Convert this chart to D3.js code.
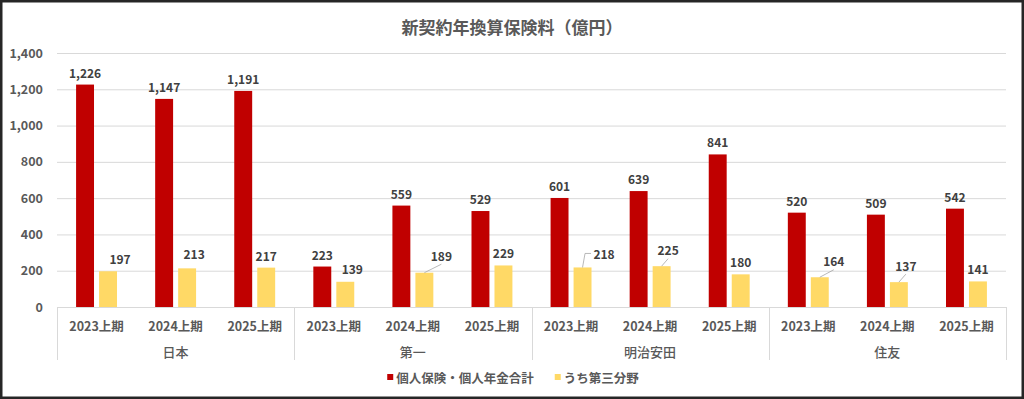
<!DOCTYPE html>
<html>
<head>
<meta charset="utf-8">
<script src="https://cdn.jsdelivr.net/npm/d3@7"></script>
<style>
  html, body { margin: 0; padding: 0; background: #fff; }
  svg { display: block; font-family: "Noto Sans CJK JP", "Noto Sans", sans-serif; }
</style>
</head>
<body>
<svg id="chart"></svg>
<script>
// chart data
const groups = ['日本', '第一', '明治安田', '住友'];
const periods = ['2023上期', '2024上期', '2025上期'];
const seriesNames = ['個人保険・個人年金合計', 'うち第三分野'];
const totalValues = [1226, 1147, 1191, 223, 559, 529, 601, 639, 841, 520, 509, 542];
const thirdSectorValues = [197, 213, 217, 139, 189, 229, 218, 225, 180, 164, 137, 141];
const yTicks = [0, 200, 400, 600, 800, 1000, 1200, 1400];
const title = '新契約年換算保険料（億円）';

// hand-moved data labels of the yellow series (px), as in the original sheet
const thirdLabelNudge = [
  { dx: 12, dy: 0 }, { dx: 7, dy: -2 }, { dx: 0, dy: 0 },
  { dx: 7, dy: -1 }, { dx: 17, dy: -5, leader: 'below' }, { dx: 0, dy: 0 },
  { dx: 21.5, dy: -1.5, leader: 'left' }, { dx: 6.5, dy: -4, leader: 'below' }, { dx: 0, dy: 0 },
  { dx: 14, dy: -4, leader: 'below' }, { dx: 7, dy: -4.5, leader: 'below' }, { dx: 0, dy: 0 }
];

const colors = ['#C00000', '#FFD966'];
const textColor = '#595959';
const gridColor = '#d9d9d9';

const width = 1024;
const height = 399;
const plot = { left: 57, right: 1006, top: 53, bottom: 307 };

const svg = d3.select('#chart')
  .attr('width', width)
  .attr('height', height);

svg.append('rect')
  .attr('width', width)
  .attr('height', height)
  .attr('fill', '#fff');

// scales
const y = d3.scaleLinear()
  .domain([0, 1400])
  .range([plot.bottom, plot.top]);

const x0 = d3.scaleBand()
  .domain(groups)
  .range([plot.left, plot.right]);

const x1 = d3.scaleBand()
  .domain(periods)
  .range([0, x0.bandwidth()]);

const x2 = d3.scaleBand()
  .domain(seriesNames)
  .range([0, x1.bandwidth()])
  .paddingInner(0.22)
  .paddingOuter(0.83);

// flatten into rows
const rows = [];
groups.forEach((g, gi) => {
  periods.forEach((p, pi) => {
    const i = gi * periods.length + pi;
    rows.push({ group: g, period: p, i, values: [totalValues[i], thirdSectorValues[i]] });
  });
});

// gridlines
svg.append('g')
  .selectAll('line')
  .data(yTicks.filter(d => d > 0))
  .enter()
  .append('line')
  .attr('x1', plot.left)
  .attr('x2', plot.right)
  .attr('y1', d => y(d) + 0.5)
  .attr('y2', d => y(d) + 0.5)
  .attr('stroke', gridColor)
  .attr('stroke-width', 1);

// y axis labels
const yAxis = d3.axisLeft(y)
  .tickValues(yTicks)
  .tickFormat(d3.format(','))
  .tickSize(0)
  .tickPadding(14);

svg.append('g')
  .attr('transform', `translate(${plot.left},0)`)
  .call(yAxis)
  .call(g => g.select('.domain').remove())
  .selectAll('text')
  .attr('fill', textColor)
  .style('font-size', '12.5px')
  .style('font-weight', '700')
  .style('font-family', '"Noto Sans CJK JP", sans-serif');

// bars
const barGroups = svg.append('g')
  .selectAll('g')
  .data(rows)
  .enter()
  .append('g')
  .attr('transform', d => `translate(${x0(d.group) + x1(d.period)},0)`);

barGroups.selectAll('rect')
  .data(d => d.values.map((v, si) => ({ v, si })))
  .enter()
  .append('rect')
  .attr('x', d => x2(seriesNames[d.si]))
  .attr('width', x2.bandwidth())
  .attr('y', d => y(d.v))
  .attr('height', d => y(0) - y(d.v))
  .attr('fill', d => colors[d.si]);

// x axis line and group separators
svg.append('line')
  .attr('x1', plot.left)
  .attr('x2', plot.right)
  .attr('y1', plot.bottom + 0.5)
  .attr('y2', plot.bottom + 0.5)
  .attr('stroke', gridColor)
  .attr('stroke-width', 1);

const separators = groups.map(g => x0(g)).concat([plot.right]);
svg.append('g')
  .selectAll('line')
  .data(separators)
  .enter()
  .append('line')
  .attr('x1', d => Math.round(d) + 0.5)
  .attr('x2', d => Math.round(d) + 0.5)
  .attr('y1', plot.bottom)
  .attr('y2', 360)
  .attr('stroke', gridColor)
  .attr('stroke-width', 1);

// period labels
svg.append('g')
  .selectAll('text')
  .data(rows)
  .enter()
  .append('text')
  .attr('x', d => x0(d.group) + x1(d.period) + x1.bandwidth() / 2)
  .attr('y', 325)
  .attr('text-anchor', 'middle')
  .attr('dominant-baseline', 'central')
  .attr('fill', textColor)
  .style('font-size', '12.5px')
  .style('font-weight', '700')
  .text(d => d.period);

// group labels
svg.append('g')
  .selectAll('text')
  .data(groups)
  .enter()
  .append('text')
  .attr('x', d => x0(d) + x0.bandwidth() / 2)
  .attr('y', 351.5)
  .attr('text-anchor', 'middle')
  .attr('dominant-baseline', 'central')
  .attr('fill', textColor)
  .style('font-size', '13px')
  .style('font-weight', '500')
  .text(d => d);

// data labels
const labelFmt = d3.format(',');
const labelGap = 12.5;
const labelLayer = svg.append('g');

rows.forEach(r => {
  const base = x0(r.group) + x1(r.period);
  // red series
  const rx = base + x2(seriesNames[0]) + x2.bandwidth() / 2;
  labelLayer.append('text')
    .attr('x', rx)
    .attr('y', y(r.values[0]) - labelGap)
    .attr('text-anchor', 'middle')
    .attr('dominant-baseline', 'central')
    .attr('fill', '#404040')
    .style('font-size', '12px')
    .style('font-weight', '700')
    .text(labelFmt(r.values[0]));

  // yellow series, with moved labels and leader lines
  const n = thirdLabelNudge[r.i];
  const bx = base + x2(seriesNames[1]) + x2.bandwidth() / 2;
  const top = y(r.values[1]);
  const lx = bx + n.dx;
  const ly = top - labelGap + n.dy;

  if (n.leader === 'below') {
    labelLayer.append('line')
      .attr('x1', bx).attr('y1', top)
      .attr('x2', lx).attr('y2', ly + 9)
      .attr('stroke', '#a6a6a6')
      .attr('stroke-width', 0.8);
  } else if (n.leader === 'left') {
    labelLayer.append('polyline')
      .attr('points', `${bx},${top} ${bx + 2.5},${ly} ${lx - 13},${ly}`)
      .attr('fill', 'none')
      .attr('stroke', '#a6a6a6')
      .attr('stroke-width', 0.8);
  }

  labelLayer.append('text')
    .attr('x', lx)
    .attr('y', ly)
    .attr('text-anchor', 'middle')
    .attr('dominant-baseline', 'central')
    .attr('fill', '#404040')
    .style('font-size', '12px')
    .style('font-weight', '700')
    .text(labelFmt(r.values[1]));
});

// title
svg.append('text')
  .attr('x', width / 2)
  .attr('y', 26.5)
  .attr('text-anchor', 'middle')
  .attr('dominant-baseline', 'central')
  .attr('fill', textColor)
  .style('font-size', '17px')
  .style('font-weight', '700')
  .text(title);

// legend
const legend = svg.append('g');
let cursor = 0;
seriesNames.forEach((name, i) => {
  const item = legend.append('g').attr('transform', `translate(${cursor},0)`);
  item.append('rect')
    .attr('x', 0)
    .attr('y', -3)
    .attr('width', 6)
    .attr('height', 6)
    .attr('fill', colors[i]);
  const t = item.append('text')
    .attr('x', 9)
    .attr('y', 0)
    .attr('dominant-baseline', 'central')
    .attr('fill', textColor)
    .style('font-size', '12.5px')
    .style('font-weight', '700')
    .text(name);
  cursor += 9 + t.node().getComputedTextLength() + 21;
});
const legendWidth = cursor - 21;
legend.attr('transform', `translate(${width / 2 + 1 - legendWidth / 2},377)`);

// frame
svg.append('rect')
  .attr('x', 1.25)
  .attr('y', 1.25)
  .attr('width', width - 2.5)
  .attr('height', height - 2.5)
  .attr('fill', 'none')
  .attr('stroke', '#262626')
  .attr('stroke-width', 2.5);
</script>
</body>
</html>
